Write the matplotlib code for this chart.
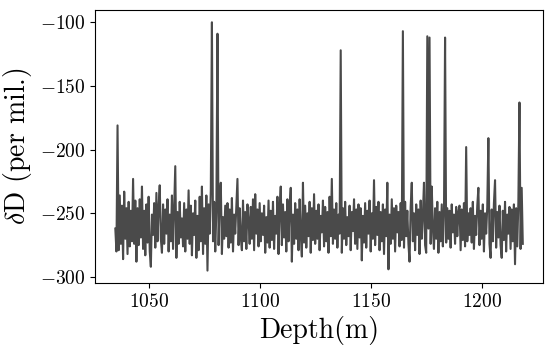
import numpy as np
import matplotlib
matplotlib.use("Agg")
import matplotlib.pyplot as plt

plt.rcParams["font.family"] = "serif"
plt.rcParams["font.serif"] = ["cmr10"]
plt.rcParams["mathtext.fontset"] = "cm"
plt.rcParams["axes.formatter.use_mathtext"] = True

dD = [
    -262, -280, -181, -279, -236, -274, -244, -286, -233, -270, -246, -282, -241, -276, -248, -272, -223, -274, -240, -288,
    -246, -275, -239, -269, -229, -278, -248, -283, -243, -273, -237, -280, -292, -251, -267, -242, -277, -234, -272, -245,
    -228, -270, -281, -243, -274, -247, -266, -239, -280, -251, -272, -236, -278, -245, -213, -285, -249, -274, -241, -269,
    -254, -276, -242, -280, -247, -270, -232, -274, -244, -283, -250, -267, -240, -285, -252, -279, -237, -272, -229, -282,
    -246, -274, -236, -295, -243, -266, -232, -100, -272, -241, -280, -248, -109, -275, -237, -226, -282, -253, -270, -244,
    -268, -242, -277, -247, -273, -238, -280, -251, -266, -244, -223, -275, -246, -269, -279, -240, -272, -249, -278, -243,
    -255, -274, -245, -270, -239, -279, -235, -266, -247, -276, -242, -272, -250, -267, -244, -281, -253, -273, -240, -277,
    -248, -271, -241, -278, -252, -266, -237, -282, -246, -229, -275, -243, -269, -249, -280, -239, -272, -245, -230, -288,
    -251, -274, -242, -270, -247, -279, -239, -266, -284, -226, -273, -244, -277, -250, -268, -241, -281, -246, -271, -235,
    -274, -248, -270, -243, -279, -252, -265, -240, -276, -245, -272, -249, -281, -237, -268, -223, -274, -247, -270, -242,
    -277, -251, -266, -122, -281, -246, -270, -241, -275, -253, -268, -244, -279, -249, -264, -239, -274, -247, -278, -243,
    -269, -246, -287, -252, -273, -242, -277, -248, -266, -240, -280, -250, -270, -224, -275, -245, -267, -241, -279, -249,
    -272, -243, -282, -247, -268, -226, -294, -251, -274, -239, -270, -246, -280, -244, -265, -249, -276, -242, -271, -107,
    -277, -241, -268, -248, -274, -288, -245, -226, -272, -250, -279, -243, -267, -247, -282, -240, -270, -251, -226, -275,
    -281, -111, -262, -112, -274, -229, -262, -278, -246, -270, -241, -281, -249, -272, -243, -276, -252, -112, -273, -246,
    -270, -248, -277, -243, -265, -251, -274, -245, -268, -249, -244, -279, -247, -271, -242, -276, -198, -272, -250, -267,
    -246, -273, -241, -278, -252, -267, -244, -230, -275, -248, -270, -243, -280, -250, -266, -245, -191, -274, -285, -247,
    -272, -242, -224, -277, -249, -269, -244, -275, -285, -248, -271, -241, -280, -251, -266, -245, -278, -247, -272, -243,
    -290, -246, -276, -242, -163, -278, -230, -274,
]
depth = np.linspace(1035.0, 1218.5, len(dD))

fig = plt.figure(figsize=(5.52, 3.52), dpi=100)
ax = fig.add_axes([0.172, 0.196, 0.812, 0.776])
ax.plot(depth, dD, color="#4a4a4a", linewidth=1.5)

ax.set_xlabel("Depth(m)", fontsize=20)
ax.set_ylabel(r"$\delta$D (per mil.)", fontsize=20)
ax.set_xticks([1050, 1100, 1150, 1200])
ax.set_yticks([-300, -250, -200, -150, -100])
ax.tick_params(labelsize=14)

fig.savefig("out.png", dpi=100)
